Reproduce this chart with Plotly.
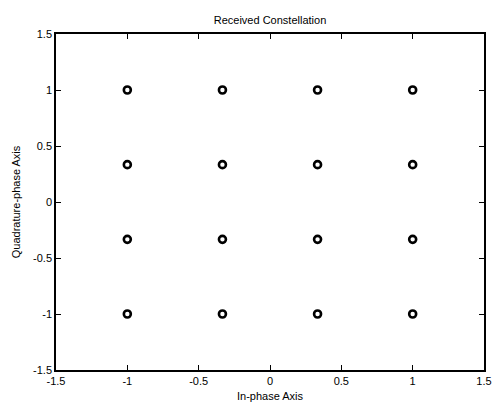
import plotly.graph_objects as go

levels = [-1.0, -1/3, 1/3, 1.0]
in_phase = [i for i in levels for q in levels]
quadrature = [q for i in levels for q in levels]

tick_vals = [-1.5, -1, -0.5, 0, 0.5, 1, 1.5]
tick_text = ["-1.5", "-1", "-0.5", "0", "0.5", "1", "1.5"]

fig = go.Figure()
fig.add_trace(go.Scatter(
    x=in_phase, y=quadrature, mode="markers",
    marker=dict(symbol="circle-open", size=7, color="black", line=dict(width=2.6, color="black")),
    showlegend=False, cliponaxis=False,
))

font = dict(family="Liberation Sans, Arial, sans-serif", size=11, color="black")
axis_common = dict(
    range=[-1.5, 1.5], tickvals=tick_vals, ticktext=tick_text,
    ticks="inside", ticklen=5, tickwidth=1, tickcolor="black",
    showline=True, linecolor="black", linewidth=1.5, mirror="allticks",
    showgrid=False, zeroline=False, tickfont=font, automargin=False,
)
fig.update_layout(
    width=494, height=405,
    margin=dict(l=56, r=10, t=34, b=35),
    paper_bgcolor="white", plot_bgcolor="white",
    font=font,
    title=dict(text="Received Constellation", x=0.5, xanchor="center", xref="paper",
               y=1 - 20/405, yref="container", yanchor="middle", font=font),
    xaxis=dict(axis_common, title=dict(text="In-phase Axis", font=font, standoff=6)),
    yaxis=dict(axis_common, title=dict(text="Quadrature-phase Axis", font=font, standoff=10)),
)
fig.write_html(
    "out.html",
    config={"displayModeBar": False},
    post_script="document.body.style.margin='0';document.body.style.overflow='hidden';",
)
